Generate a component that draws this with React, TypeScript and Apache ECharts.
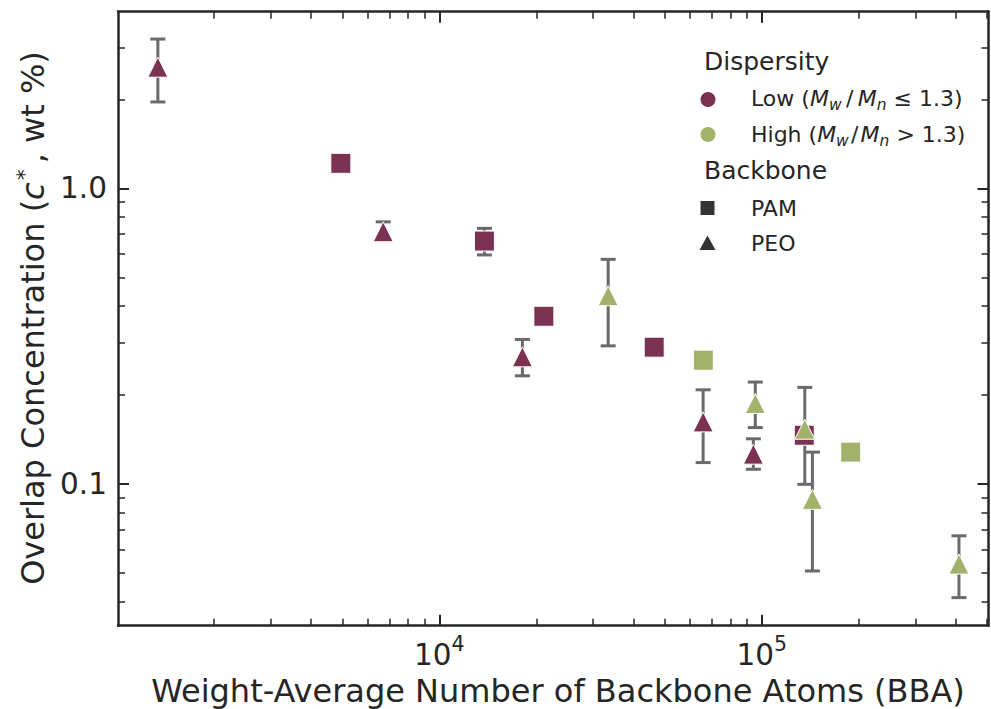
import React, { useEffect, useRef } from 'react';
import * as echarts from 'echarts';

// ---- data (raw values) ----
const lowPamX = [4950, 13800, 21100, 46400, 135500];
const lowPamY = [1.215, 0.663, 0.369, 0.29, 0.146];
const lowPamLo: (number | null)[] = [null, 0.595, null, null, null];
const lowPamHi: (number | null)[] = [null, 0.732, null, null, null];

const lowPeoX = [1340, 6700, 18100, 65800, 94200];
const lowPeoY = [2.57, 0.713, 0.269, 0.162, 0.126];
const lowPeoLo: (number | null)[] = [1.96, 0.68, 0.232, 0.118, 0.112];
const lowPeoHi: (number | null)[] = [3.2, 0.77, 0.308, 0.208, 0.142];

const highPamX = [65900, 188800];
const highPamY = [0.262, 0.128];

const highPeoX = [33400, 95500, 136000, 143600, 409000];
const highPeoY = [0.433, 0.187, 0.153, 0.0886, 0.0535];
const highPeoLo: (number | null)[] = [0.293, 0.155, 0.0996, 0.0507, 0.0412];
const highPeoHi: (number | null)[] = [0.575, 0.221, 0.212, 0.128, 0.0667];

const X_MIN = 1008;
const X_MAX = 505000;
const Y_MIN = 0.0331;
const Y_MAX = 3.96;

const xMajorTicks = [1e4, 1e5];
const xMinorTicks = [2000, 3000, 4000, 5000, 6000, 7000, 8000, 9000, 20000, 30000, 40000, 50000, 60000, 70000, 80000, 90000, 200000, 300000, 400000, 500000];
const yMajorTicks = [0.1, 1.0];
const yMinorTicks = [0.04, 0.05, 0.06, 0.07, 0.08, 0.09, 0.2, 0.3, 0.4, 0.5, 0.6, 0.7, 0.8, 0.9, 2, 3];

const FONT = 'DejaVu Sans';
const INK = '#262626';
const LOW = '#7b3152';
const HIGH = '#a3b26b';
const ERR = '#6a6a6a';

const L = (v: number) => Math.log10(v);

export default function App() {
  const ref = useRef<HTMLDivElement>(null);

  useEffect(() => {
    document.body.style.margin = '0';
    const chart = echarts.init(ref.current!, null, { renderer: 'svg' });

    const errData: number[][] = [];
    const addErr = (xs: number[], lo: (number | null)[], hi: (number | null)[]) => {
      xs.forEach((x, i) => {
        const a = lo[i];
        const b = hi[i];
        if (a != null && b != null) errData.push([L(x), L(a), L(b)]);
      });
    };
    addErr(lowPeoX, lowPeoLo, lowPeoHi);
    addErr(lowPamX, lowPamLo, lowPamHi);
    addErr(highPeoX, highPeoLo, highPeoHi);

    const pts = (xs: number[], ys: number[]) => xs.map((x, i) => [L(x), L(ys[i])]);

    const mkAxis = (dim: 'x' | 'y', position: string, ticks: number[], len: number, width: number, showLine: boolean, label: boolean) => {
      const isX = dim === 'x';
      const ax: any = {
        type: 'value',
        position,
        min: isX ? L(X_MIN) : L(Y_MIN),
        max: isX ? L(X_MAX) : L(Y_MAX),
        splitLine: { show: false },
        axisLine: { show: showLine, onZero: false, lineStyle: { color: INK, width: 2.5 } },
        axisTick: { show: true, inside: true, length: len, customValues: ticks.map(L), lineStyle: { color: INK, width } },
        axisLabel: { show: false },
      };
      if (label) {
        if (isX) {
          ax.axisLabel = {
            show: true,
            customValues: ticks.map(L),
            margin: 8,
            formatter: (v: number) => `{b|10}{s|${Math.round(v)}}`,
            rich: {
              b: { fontFamily: FONT, fontSize: 29.5, color: INK, lineHeight: 36, verticalAlign: 'bottom' },
              s: { fontFamily: FONT, fontSize: 20.5, color: INK, lineHeight: 8, verticalAlign: 'top' },
            },
          };
        } else {
          ax.axisLabel = {
            show: true,
            customValues: ticks.map(L),
            margin: 11,
            fontFamily: FONT,
            fontSize: 29.5,
            color: INK,
            formatter: (v: number) => Math.pow(10, v).toFixed(1),
          };
        }
      }
      return ax;
    };

    const xAxes = [
      mkAxis('x', 'bottom', xMajorTicks, 11, 2, true, true),
      mkAxis('x', 'bottom', xMinorTicks, 7, 1.5, false, false),
      mkAxis('x', 'top', xMajorTicks, 11, 2, true, false),
      mkAxis('x', 'top', xMinorTicks, 7, 1.5, false, false),
    ];
    const yAxes = [
      mkAxis('y', 'left', yMajorTicks, 11, 2, true, true),
      mkAxis('y', 'left', yMinorTicks, 7, 1.5, false, false),
      mkAxis('y', 'right', yMajorTicks, 11, 2, true, false),
      mkAxis('y', 'right', yMinorTicks, 7, 1.5, false, false),
    ];

    const marker = (name: string, symbol: string, size: number, color: string, data: number[][], z: number) => ({
      type: 'scatter',
      name,
      xAxisIndex: 0,
      yAxisIndex: 0,
      symbol,
      symbolSize: size,
      itemStyle: { color, borderColor: '#ffffff', borderWidth: 1, opacity: 1 },
      emphasis: { disabled: true },
      silent: true,
      z,
      data,
    });

    const legendText = (x: number, y: number, text: string, size: number, rich?: any) => ({
      type: 'text',
      x,
      y,
      style: {
        text,
        fill: INK,
        fontFamily: FONT,
        fontSize: size,
        align: 'left',
        verticalAlign: 'middle',
        rich,
      },
    });
    const legRich = {
      t: { fontFamily: FONT, fontSize: 22, fill: INK, color: INK, lineHeight: 30 },
      i: { fontFamily: FONT, fontSize: 22, fontStyle: 'italic', fill: INK, color: INK, lineHeight: 30 },
      s: { fontFamily: FONT, fontSize: 15.5, fontStyle: 'italic', fill: INK, color: INK, lineHeight: 18, verticalAlign: 'bottom' },
    };

    chart.setOption({
      animation: false,
      backgroundColor: '#ffffff',
      grid: { left: 118, right: 2.5, top: 11.7, bottom: 83.3 },
      xAxis: xAxes,
      yAxis: yAxes,
      series: [
        {
          type: 'custom',
          name: 'error',
          xAxisIndex: 0,
          yAxisIndex: 0,
          silent: true,
          z: 2,
          encode: { x: 0, y: [1, 2] },
          data: errData,
          renderItem: (params: any, api: any) => {
            const x = api.value(0);
            const p1 = api.coord([x, api.value(1)]);
            const p2 = api.coord([x, api.value(2)]);
            const hw = 7.5;
            const st = { stroke: ERR, lineWidth: 3 };
            return {
              type: 'group',
              children: [
                { type: 'line', shape: { x1: p1[0], y1: p1[1], x2: p2[0], y2: p2[1] }, style: st },
                { type: 'line', shape: { x1: p1[0] - hw, y1: p1[1], x2: p1[0] + hw, y2: p1[1] }, style: st },
                { type: 'line', shape: { x1: p2[0] - hw, y1: p2[1], x2: p2[0] + hw, y2: p2[1] }, style: st },
              ],
            };
          },
        },
        marker('Low PAM', 'rect', 20, LOW, pts(lowPamX, lowPamY), 3),
        marker('Low PEO', 'triangle', 20, LOW, pts(lowPeoX, lowPeoY), 3),
        marker('High PAM', 'rect', 20, HIGH, pts(highPamX, highPamY), 4),
        marker('High PEO', 'triangle', 20, HIGH, pts(highPeoX, highPeoY), 4),
      ],
      graphic: [
        legendText(704, 61, 'Dispersity', 25),
        { type: 'circle', shape: { cx: 708, cy: 99.5, r: 7.5 }, style: { fill: LOW } },
        legendText(751, 98, '{t|Low (}{i|M}{s|w}{t|\u2009/\u2009}{i|M}{s|n}{t| ≤ 1.3)}', 22, legRich),
        { type: 'circle', shape: { cx: 708, cy: 134.5, r: 7.5 }, style: { fill: HIGH } },
        legendText(751, 134, '{t|High (}{i|M}{s|w}{t|\u200A/\u200A}{i|M}{s|n}{t| > 1.3)}', 22, legRich),
        legendText(704, 170, 'Backbone', 25),
        { type: 'rect', shape: { x: 700.5, y: 201, width: 14, height: 14 }, style: { fill: '#333333' } },
        legendText(751, 208, 'PAM', 22),
        { type: 'polygon', shape: { points: [[707.5, 235.5], [699.5, 250], [715.5, 250]] }, style: { fill: '#333333' } },
        legendText(751, 243, 'PEO', 22),
        {
          type: 'text',
          x: 558,
          y: 691,
          style: {
            text: 'Weight-Average Number of Backbone Atoms (BBA)',
            fill: INK,
            fontFamily: FONT,
            fontSize: 32,
            align: 'center',
            verticalAlign: 'middle',
          },
        },
        {
          type: 'text',
          x: 33,
          y: 318,
          rotation: Math.PI / 2,
          style: {
            text: '{t|Overlap Concentration (}{i|c}{p|*}{t|, wt %)}',
            fill: INK,
            align: 'center',
            verticalAlign: 'middle',
            rich: {
              t: { fontFamily: FONT, fontSize: 32, fill: INK, color: INK, lineHeight: 40 },
              i: { fontFamily: FONT, fontSize: 32, fontStyle: 'italic', fill: INK, color: INK, lineHeight: 40 },
              p: { fontFamily: FONT, fontSize: 22, fill: INK, color: INK, lineHeight: 16, verticalAlign: 'top', padding: [0, 6, 0, 2] },
            },
          },
        },
      ],
    });

    return () => chart.dispose();
  }, []);

  return <div ref={ref} style={{ position: 'fixed', left: 0, top: 0, width: 991, height: 709, background: '#fff' }} />;
}
